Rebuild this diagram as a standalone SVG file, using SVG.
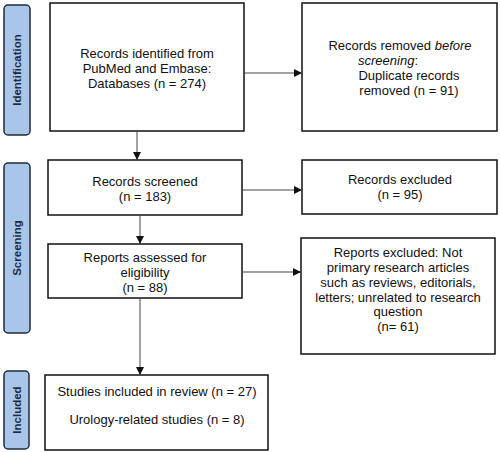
<svg xmlns="http://www.w3.org/2000/svg" width="500" height="452" viewBox="0 0 500 452">
<defs>
<marker id="arr" markerUnits="userSpaceOnUse" markerWidth="8" markerHeight="8" refX="8" refY="4" orient="auto">
<path d="M0,0 L8,4 L0,8 z" fill="#111"/>
</marker>
<style>
.box{fill:#fff;stroke:#111;stroke-width:1.5}
.side{fill:#a9c6e8;stroke:#1f2d3d;stroke-width:1.5}
.t{font-family:"Liberation Sans",Arial,sans-serif;font-size:13px;fill:#111;text-anchor:middle}
.st{font-family:"Liberation Sans",Arial,sans-serif;font-size:11.5px;font-weight:bold;fill:#1b2a47;text-anchor:middle}
.c{stroke:#444;stroke-width:1;fill:none;marker-end:url(#arr)}
</style>
</defs>
<rect width="500" height="452" fill="#fff"/>
<g id="side-identification">
<rect class="side" x="4" y="5" width="26" height="130" rx="4"/>
<text class="st" transform="translate(21,70) rotate(-90)">Identification</text>
</g>
<g id="side-screening">
<rect class="side" x="4" y="163" width="26" height="170" rx="4"/>
<text class="st" transform="translate(21,248) rotate(-90)">Screening</text>
</g>
<g id="side-included">
<rect class="side" x="4" y="371" width="25" height="78" rx="4"/>
<text class="st" transform="translate(20.5,410) rotate(-90)">Included</text>
</g>
<g id="identified">
<rect class="box" x="50" y="3" width="194" height="128"/>
<text class="t" x="147" y="58">Records identified from</text>
<text class="t" x="147" y="73">PubMed and Embase:</text>
<text class="t" x="147" y="88">Databases (n = 274)</text>
</g>
<g id="removed">
<rect class="box" x="302" y="3" width="195" height="128"/>
<text class="t" x="400" y="50">Records removed <tspan font-style="italic">before</tspan></text>
<text class="t" x="388" y="65"><tspan font-style="italic">screening</tspan>:</text>
<text class="t" x="409" y="80">Duplicate records</text>
<text class="t" x="409" y="95">removed (n = 91)</text>
</g>
<g id="screened">
<rect class="box" x="48" y="160" width="194" height="55"/>
<text class="t" x="145" y="186">Records screened</text>
<text class="t" x="145" y="201">(n = 183)</text>
</g>
<g id="excluded">
<rect class="box" x="302" y="160" width="195" height="54"/>
<text class="t" x="400" y="184">Records excluded</text>
<text class="t" x="400" y="199">(n = 95)</text>
</g>
<g id="assessed">
<rect class="box" x="48" y="244" width="194" height="54"/>
<text class="t" x="145" y="262">Reports assessed for</text>
<text class="t" x="145" y="277">eligibility</text>
<text class="t" x="145" y="292">(n = 88)</text>
</g>
<g id="reports-excluded">
<rect class="box" x="301" y="238" width="194" height="116"/>
<text class="t" x="398" y="257">Reports excluded: Not</text>
<text class="t" x="398" y="272">primary research articles</text>
<text class="t" x="398" y="287">such as reviews, editorials,</text>
<text class="t" x="398" y="302">letters; unrelated to research</text>
<text class="t" x="398" y="316">question</text>
<text class="t" x="398" y="331">(n= 61)</text>
</g>
<g id="included">
<rect class="box" x="45" y="375" width="223" height="75"/>
<text class="t" x="157" y="396">Studies included in review (n = 27)</text>
<text class="t" x="157" y="424">Urology-related studies (n = 8)</text>
</g>
<g id="connectors">
<line class="c" x1="244" y1="73" x2="302" y2="73"/>
<line class="c" x1="137" y1="131" x2="137" y2="160"/>
<line class="c" x1="242" y1="190" x2="302" y2="190"/>
<line class="c" x1="140" y1="215" x2="140" y2="244"/>
<line class="c" x1="242" y1="272" x2="301" y2="272"/>
<line class="c" x1="140" y1="298" x2="140" y2="375"/>
</g>
</svg>
